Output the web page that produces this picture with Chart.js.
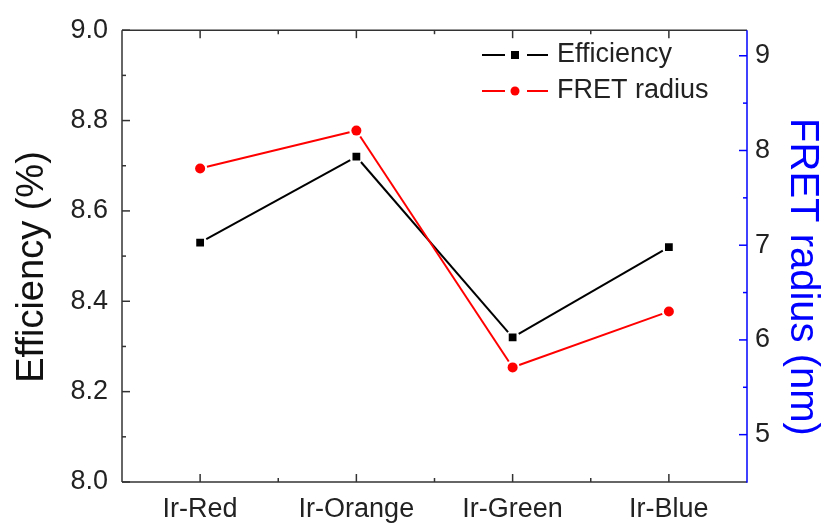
<!DOCTYPE html>
<html>
<head>
<meta charset="utf-8">
<script src="https://cdn.jsdelivr.net/npm/chart.js@4"></script>
<style>
  html, body { margin: 0; padding: 0; background: #fff; }
  #wrap { width: 826px; height: 524px; }
</style>
</head>
<body>
<div id="wrap"><canvas id="c" width="826" height="524"></canvas></div>
<script>
const categories = ['Ir-Red', 'Ir-Orange', 'Ir-Green', 'Ir-Blue'];
const efficiency = [8.53, 8.72, 8.32, 8.52];
const fretRadius = [7.81, 8.21, 5.71, 6.30];
const leftTicks = [8.0, 8.2, 8.4, 8.6, 8.8, 9.0];
const rightTicks = [5, 6, 7, 8, 9];
const leftTitle = 'Efficiency (%)';
const rightTitle = 'FRET radius (nm)';

const FONT = '"Liberation Sans", Arial, sans-serif';
const BLUE = '#0000ff';
const RED = '#ff0000';

const gapLines = {
  id: 'gapLines',
  beforeDatasetsDraw(chart) {
    const { ctx } = chart;
    ctx.save();
    chart.data.datasets.forEach((ds, di) => {
      const pts = chart.getDatasetMeta(di).data;
      ctx.strokeStyle = ds.borderColor;
      ctx.lineWidth = 2;
      for (let i = 0; i < pts.length - 1; i++) {
        const p = pts[i], q = pts[i + 1];
        const dx = q.x - p.x, dy = q.y - p.y, L = Math.hypot(dx, dy);
        const g = 7;
        if (L <= 2 * g) continue;
        const ux = dx / L, uy = dy / L;
        ctx.beginPath();
        ctx.moveTo(p.x + ux * g, p.y + uy * g);
        ctx.lineTo(q.x - ux * g, q.y - uy * g);
        ctx.stroke();
      }
    });
    ctx.restore();
  }
};

const frameAndTicks = {
  id: 'frameAndTicks',
  afterDatasetsDraw(chart) {
    const { ctx, chartArea: a, scales } = chart;
    const x = scales.x, yL = scales.y, yR = scales.y1;
    ctx.save();
    ctx.lineWidth = 1.5;
    ctx.lineCap = 'butt';
    const line = (x1, y1, x2, y2, c) => {
      ctx.strokeStyle = c; ctx.beginPath(); ctx.moveTo(x1, y1); ctx.lineTo(x2, y2); ctx.stroke();
    };
    // frame
    line(a.left, a.top, a.right, a.top, '#333');
    line(a.left, a.top, a.left, a.bottom, '#333');
    line(a.left, a.bottom, a.right, a.bottom, '#333');
    line(a.right, a.top, a.right, a.bottom + 0.75, BLUE);
    // left ticks
    leftTicks.forEach((v, i) => {
      const py = yL.getPixelForValue(v);
      line(a.left, py, a.left + 8, py, '#333');
      if (i < leftTicks.length - 1) {
        const pm = yL.getPixelForValue((v + leftTicks[i + 1]) / 2);
        line(a.left, pm, a.left + 4, pm, '#333');
      }
    });
    // right ticks
    rightTicks.forEach((v, i) => {
      const py = yR.getPixelForValue(v);
      line(a.right, py, a.right - 8, py, BLUE);
      if (i < rightTicks.length - 1) {
        const pm = yR.getPixelForValue((v + rightTicks[i + 1]) / 2);
        line(a.right, pm, a.right - 4, pm, BLUE);
      }
    });
    // bottom & top ticks
    categories.forEach((c, i) => {
      const px = x.getPixelForValue(i);
      line(px, a.bottom, px, a.bottom - 8, '#333');
      line(px, a.top, px, a.top + 8, '#333');
      if (i < categories.length - 1) {
        const pm = (px + x.getPixelForValue(i + 1)) / 2;
        line(pm, a.bottom, pm, a.bottom - 4, '#333');
        line(pm, a.top, pm, a.top + 4, '#333');
      }
    });
    // legend
    const rows = [
      { ds: chart.data.datasets[0], y: 55 },
      { ds: chart.data.datasets[1], y: 91 }
    ];
    rows.forEach(r => {
      const c = r.ds.borderColor;
      ctx.lineWidth = 2;
      line(482, r.y, 505, r.y, c);
      line(527, r.y, 548, r.y, c);
      ctx.fillStyle = c;
      if (r.ds.pointStyle === 'rect') {
        ctx.fillRect(511, r.y - 4, 8, 8);
      } else {
        ctx.beginPath(); ctx.arc(515, r.y, 4.5, 0, Math.PI * 2); ctx.fill();
      }
      ctx.fillStyle = '#222';
      ctx.font = '27px ' + FONT;
      ctx.textBaseline = 'middle';
      ctx.textAlign = 'left';
      ctx.fillText(r.ds.label, 557, r.y);
    });
    // axis titles
    ctx.textAlign = 'center';
    ctx.textBaseline = 'middle';
    ctx.save();
    ctx.translate(33, 267);
    ctx.rotate(-Math.PI / 2);
    ctx.fillStyle = '#111';
    ctx.font = '38px ' + FONT;
    ctx.fillText(leftTitle, 0, 0);
    ctx.restore();
    ctx.save();
    ctx.translate(802, 277);
    ctx.rotate(Math.PI / 2);
    ctx.fillStyle = BLUE;
    ctx.font = '40px ' + FONT;
    ctx.fillText(rightTitle, 0, 0);
    ctx.restore();
    ctx.restore();
  }
};

new Chart(document.getElementById('c'), {
  type: 'line',
  data: {
    labels: categories,
    datasets: [
      {
        label: 'Efficiency',
        data: efficiency,
        yAxisID: 'y',
        borderColor: '#000000',
        backgroundColor: '#000000',
        borderWidth: 2,
        showLine: false,
        pointStyle: 'rect',
        pointRadius: 5.5,
        pointBorderWidth: 0
      },
      {
        label: 'FRET radius',
        data: fretRadius,
        yAxisID: 'y1',
        borderColor: RED,
        backgroundColor: RED,
        borderWidth: 2,
        showLine: false,
        pointStyle: 'circle',
        pointRadius: 5,
        pointBorderWidth: 0
      }
    ]
  },
  options: {
    responsive: false,
    animation: false,
    layout: { padding: { top: 22, left: 0, right: 0, bottom: 0 } },
    plugins: { legend: { display: false }, tooltip: { enabled: false } },
    scales: {
      x: {
        type: 'category',
        offset: true,
        grid: { display: false, drawTicks: false },
        border: { display: false },
        ticks: { color: '#222', font: { family: FONT, size: 27 }, padding: 11, maxRotation: 0 },
        afterFit: s => { s.height = 42; }
      },
      y: {
        position: 'left',
        min: 8.0, max: 9.0,
        afterBuildTicks: s => { s.ticks = leftTicks.map(v => ({ value: v })); },
        grid: { display: false, drawTicks: false },
        border: { display: false },
        ticks: { color: '#222', font: { family: FONT, size: 27 }, padding: 14, callback: v => v.toFixed(1) },
        title: { display: false },
        afterFit: s => { s.width = 122; }
      },
      y1: {
        position: 'right',
        min: 4.5, max: 9.27,
        afterBuildTicks: s => { s.ticks = rightTicks.map(v => ({ value: v })); },
        grid: { display: false, drawTicks: false },
        border: { display: false },
        ticks: { color: '#222', font: { family: FONT, size: 27 }, padding: 8, callback: v => String(v) },
        title: { display: false },
        afterFit: s => { s.width = 79; }
      }
    }
  },
  plugins: [gapLines, frameAndTicks]
});
</script>
</body>
</html>
